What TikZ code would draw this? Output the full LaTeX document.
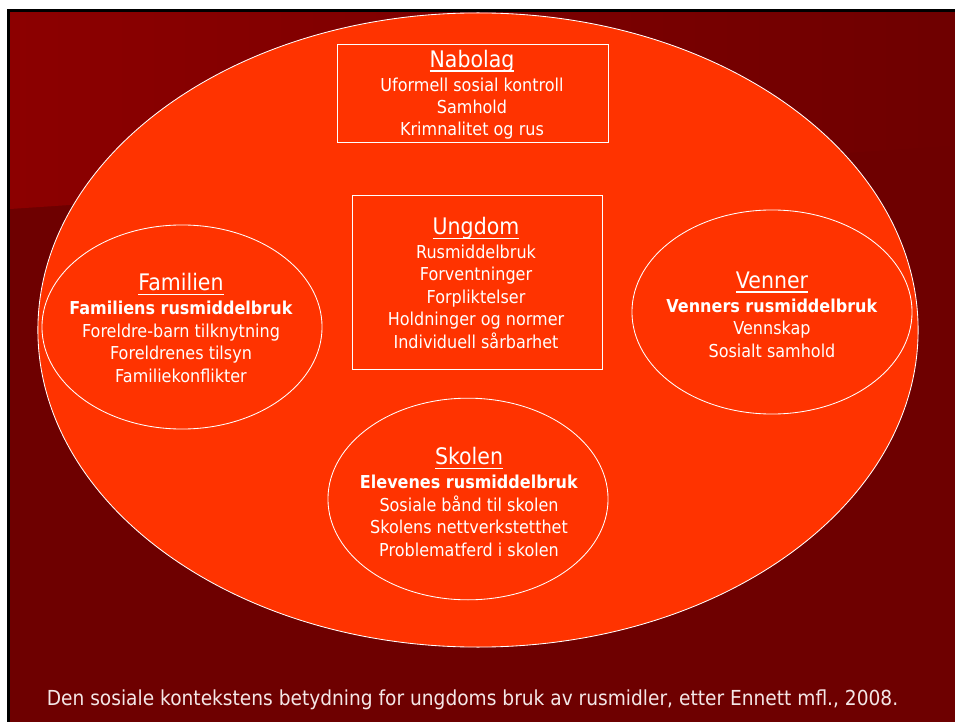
\documentclass[tikz,border=0pt]{standalone}
\usepackage{fontspec}
\setmainfont[FakeStretch=0.9]{DejaVu Sans}
\usepackage{tikz}

\definecolor{slide}{HTML}{6E0000}
\definecolor{slidehi}{HTML}{8C0000}
\definecolor{orng}{HTML}{FF3300}
\definecolor{foot}{HTML}{F4E6E6}

% heading with a low underline
\newcommand{\undl}[1]{\leavevmode\setbox0\hbox{#1}\rlap{\copy0}\rule[-3pt]{\wd0}{0.9pt}}
\newcommand{\hd}[1]{{\fontsize{16.2pt}{16.2pt}\selectfont\undl{#1}}\\[1pt]}

\begin{document}
\begin{tikzpicture}[x=0.025cm,y=-0.025cm,
  body/.style={font=\fontsize{12.66pt}{15.93pt}\selectfont,text=white,
    align=center,inner sep=0pt,anchor=base},
  rim/.style={draw=white,line width=0.6pt},
]

\useasboundingbox (0,0) rectangle (955,722);

% ------------------------------------------------------------------
% slide background
% ------------------------------------------------------------------
\fill[white] (0,0) rectangle (955,722);
\fill[slide] (7,9) rectangle (965,732);
\shade[left color=slidehi,right color=slide]
  (10,12) -- (965,12) -- (965,145) -- (10,209) -- cycle;
\fill[black] (7,9) rectangle (965,12);
\fill[black] (7,9) rectangle (10,732);

% ------------------------------------------------------------------
% outer context and the inner circles
% ------------------------------------------------------------------
\draw[rim,fill=orng] (478,330) ellipse [x radius=11cm,y radius=7.925cm];

\draw[rim] (337,44) rectangle (608,142);
\draw[rim] (352,195) rectangle (602,369);
\draw[rim] (182,327) ellipse [x radius=3.5cm,y radius=2.55cm];
\draw[rim] (772,312) ellipse [x radius=3.5cm,y radius=2.55cm];
\draw[rim] (468,499) ellipse [x radius=3.5cm,y radius=2.52cm];

% ------------------------------------------------------------------
% texts (placed at the baseline of their last line)
% ------------------------------------------------------------------
\node[body] (nabolag) at (472,136) {\hd{Nabolag}
  Uformell sosial kontroll\\ Samhold\\ Krimnalitet og rus};

\node[body] (ungdom) at (476,348) {\hd{Ungdom}
  Rusmiddelbruk\\ Forventninger\\ Forpliktelser\\
  Holdninger og normer\\ Individuell sårbarhet};

\node[body] (familien) at (181,382) {\hd{Familien}
  \textbf{Familiens rusmiddelbruk}\\ Foreldre-barn tilknytning\\
  Foreldrenes tilsyn\\ Familiekonflikter};

\node[body] (venner) at (772,357) {\hd{Venner}
  \textbf{Venners rusmiddelbruk}\\ Vennskap\\ Sosialt samhold};

\node[body] (skolen) at (469,556) {\hd{Skolen}
  \textbf{Elevenes rusmiddelbruk}\\ Sosiale bånd til skolen\\
  Skolens nettverkstetthet\\ Problematferd i skolen};

\node[body,text=foot,font=\fontsize{14.7pt}{16pt}\selectfont] (kilde) at (472.5,705)
  {Den sosiale kontekstens betydning for ungdoms bruk av rusmidler, etter Ennett mfl., 2008.};

\end{tikzpicture}
\end{document}
